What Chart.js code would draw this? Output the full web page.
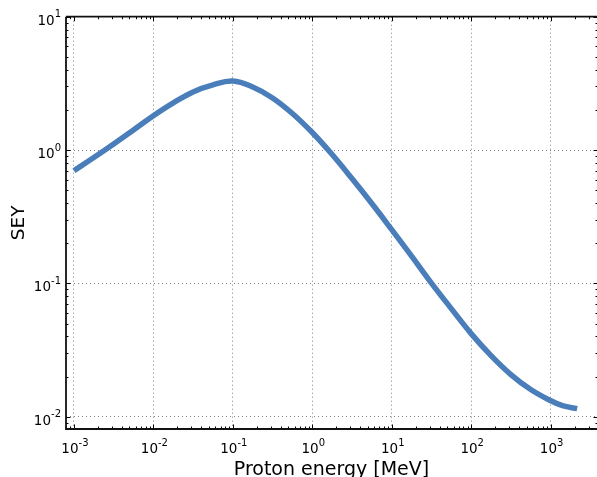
<!DOCTYPE html>
<html>
<head>
<meta charset="utf-8">
<script src="https://cdn.jsdelivr.net/npm/chart.js@4.4.0/dist/chart.umd.min.js"></script>
<style>
  html, body { margin: 0; padding: 0; background: #fff; }
  #sey { display: block; }
</style>
</head>
<body>
<canvas id="sey" width="597" height="477"></canvas>
<script>
// Data
const energyMeV = [0.001, 0.00178, 0.00316, 0.00562, 0.01, 0.0178, 0.0316, 0.0562, 0.1, 0.178, 0.316, 0.562,
                   1, 1.78, 3.16, 5.62, 10, 17.8, 31.6, 56.2, 100, 178, 316, 562, 1000, 1410, 2160];
const seyValues = [0.70, 0.878, 1.11, 1.415, 1.81, 2.26, 2.73, 3.08, 3.29, 2.97, 2.46, 1.88,
                   1.353, 0.925, 0.611, 0.397, 0.253, 0.160, 0.1005, 0.0647, 0.042, 0.0287, 0.0207, 0.0160, 0.0132, 0.0121, 0.0115];

// Tick exponents (decades)
const xTickExp = [-3, -2, -1, 0, 1, 2, 3];
const yTickExp = [-2, -1, 0, 1];

const FONT = '"DejaVu Sans", "Liberation Sans", sans-serif';

function drawPow(ctx, exp, x, y, align) {
  const base = '10', sup = String(exp);
  ctx.font = '13.5px ' + FONT;
  const wb = ctx.measureText(base).width;
  ctx.font = '10px ' + FONT;
  const ws = ctx.measureText(sup).width;
  const w = wb + ws;
  const x0 = align === 'right' ? x - w : x - w / 2;
  ctx.textAlign = 'left';
  ctx.textBaseline = 'alphabetic';
  ctx.fillStyle = '#000';
  ctx.font = '13.5px ' + FONT;
  ctx.fillText(base, x0, y);
  ctx.font = '10px ' + FONT;
  ctx.fillText(sup, x0 + wb, y - 7.5);
}

// spines, inward ticks on all sides, mathtext-like labels
const axisDecor = {
  id: 'axisDecor',
  afterDraw(chart) {
    const ctx = chart.ctx;
    const a = chart.chartArea;
    const xs = chart.scales.x, ys = chart.scales.y;
    const rightX = a.right + 1;
    ctx.save();
    ctx.strokeStyle = '#000';
    ctx.lineWidth = 1;
    function tick(p, len, horiz) {
      ctx.beginPath();
      if (horiz) {
        ctx.moveTo(p, a.bottom); ctx.lineTo(p, a.bottom - len);
        ctx.moveTo(p, a.top); ctx.lineTo(p, a.top + len);
      } else {
        ctx.moveTo(a.left, p); ctx.lineTo(a.left + len, p);
        ctx.moveTo(rightX, p); ctx.lineTo(rightX - len, p);
      }
      ctx.stroke();
    }
    for (let n = -4; n <= 4; n++) {
      for (let k = 1; k <= 9; k++) {
        const v = k * Math.pow(10, n);
        const len = k === 1 ? 4.5 : 2.5;
        if (v >= xs.min && v <= xs.max) tick(Math.round(xs.getPixelForValue(v)) + 0.5, len, true);
        if (v >= ys.min && v <= ys.max) tick(Math.round(ys.getPixelForValue(v)) + 0.5, len, false);
      }
    }
    ctx.lineWidth = 1.8;
    ctx.strokeStyle = '#111';
    ctx.beginPath();
    ctx.moveTo(a.left, a.top); ctx.lineTo(rightX + 2, a.top);
    ctx.moveTo(a.left, a.top); ctx.lineTo(a.left, a.bottom);
    ctx.lineTo(rightX + 2, a.bottom);
    ctx.moveTo(rightX, a.top); ctx.lineTo(rightX, a.bottom);
    ctx.stroke();

    xTickExp.forEach(e => drawPow(ctx, e, xs.getPixelForValue(Math.pow(10, e)) + 1, 453, 'center'));
    yTickExp.forEach(e => drawPow(ctx, e, 61, ys.getPixelForValue(Math.pow(10, e)) + 8, 'right'));
    ctx.restore();
  }
};

const gridStyle = {
  color: 'rgba(0,0,0,0.5)',
  lineWidth: 1,
  drawTicks: false
};

new Chart(document.getElementById('sey'), {
  type: 'line',
  data: {
    datasets: [{
      data: energyMeV.map((e, i) => ({ x: e, y: seyValues[i] })),
      borderColor: '#4a7ebb',
      borderWidth: 5.5,
      pointRadius: 0,
      tension: 0.4,
      fill: false
    }]
  },
  options: {
    responsive: false,
    devicePixelRatio: 1,
    animation: false,
    layout: { padding: { top: 16.7, right: 0, left: 0, bottom: 0 } },
    plugins: { legend: { display: false }, tooltip: { enabled: false } },
    scales: {
      x: {
        type: 'logarithmic',
        min: Math.pow(10, -3.1),
        max: Math.pow(10, 3.584),
        afterBuildTicks: s => { s.ticks = xTickExp.map(e => ({ value: Math.pow(10, e) })); },
        afterFit: s => { s.height = 48; },
        grid: gridStyle,
        border: { display: false, dash: [1, 3] },
        ticks: { display: false },
        title: {
          display: true,
          text: 'Proton energy [MeV]',
          color: '#000',
          font: { family: FONT, size: 19, lineHeight: 0.7 },
          padding: { top: 0, bottom: 0 }
        }
      },
      y: {
        type: 'logarithmic',
        min: Math.pow(10, -2.092),
        max: 10,
        afterBuildTicks: s => { s.ticks = yTickExp.map(e => ({ value: Math.pow(10, e) })); },
        afterFit: s => { s.width = 66; },
        grid: gridStyle,
        border: { display: false, dash: [1, 3] },
        ticks: { display: false },
        title: {
          display: true,
          text: 'SEY',
          color: '#000',
          font: { family: FONT, size: 18.5, lineHeight: 1 },
          padding: { top: 10, bottom: 0 }
        }
      }
    }
  },
  plugins: [axisDecor]
});
</script>
</body>
</html>
